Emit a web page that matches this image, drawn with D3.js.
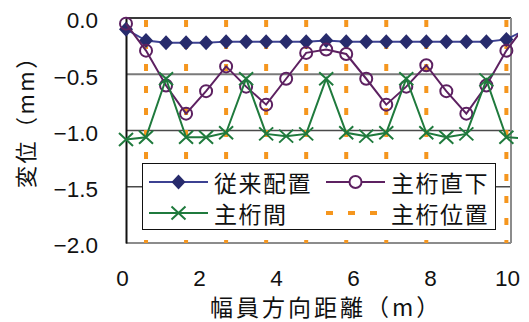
<!DOCTYPE html>
<html><head><meta charset="utf-8">
<script src="https://cdn.jsdelivr.net/npm/d3@7/dist/d3.min.js"></script>
<style>body{margin:0;background:#fff}svg{display:block}</style>
</head><body><svg id="c" width="529" height="322"></svg>
<script>
// ---- data ----
const xPos = [0, 0.52, 1.04, 1.56, 2.08, 2.6, 3.12, 3.64, 4.16, 4.68, 5.2, 5.72, 6.24, 6.76, 7.28, 7.8, 8.32, 8.84, 9.36, 9.88, 10.4];
const conventional = [-0.10, -0.20, -0.22, -0.22, -0.22, -0.21, -0.21, -0.21, -0.21, -0.21, -0.20, -0.21, -0.21, -0.21, -0.21, -0.21, -0.21, -0.21, -0.21, -0.19, -0.10]; // 従来配置
const underGirder = [-0.05, -0.29, -0.60, -0.85, -0.65, -0.43, -0.61, -0.77, -0.54, -0.31, -0.28, -0.32, -0.54, -0.77, -0.61, -0.42, -0.65, -0.85, -0.60, -0.29, -0.05]; // 主桁直下
const betweenGirder = [-1.08, -1.06, -0.54, -1.06, -1.06, -1.02, -0.54, -1.03, -1.05, -1.03, -0.54, -1.02, -1.05, -1.02, -0.54, -1.02, -1.06, -1.03, -0.55, -1.06, -1.07]; // 主桁間
const girderPos = [0.52, 1.56, 2.6, 3.64, 4.68, 5.72, 6.76, 7.8, 9.88]; // 主桁位置
const xTicks = [0, 2, 4, 6, 8, 10];
const yTicks = [0, -0.5, -1.0, -1.5, -2.0];
const seriesNames = ["従来配置", "主桁直下", "主桁間", "主桁位置"];
const xTitle = "幅員方向距離（m）";
const yTitle = "変位（mm）";

// ---- layout ----
const svg = d3.select("#c");
const L = 126, R = 511, T = 18, B = 243;
const x = d3.scaleLinear().domain([0, 10]).range([L, R]);
const y = d3.scaleLinear().domain([-2, 0]).range([B, T]);
const C = {navy:"#272b6c", navyLine:"#3c4192", purple:"#5d2161", green:"#1f7a3d", orange:"#f5961e"};
const numFont = "'Liberation Sans', Arial, sans-serif";
const jpFont = "'Noto Sans CJK JP', sans-serif";

svg.append("defs").append("clipPath").attr("id","clip")
  .append("rect").attr("x",0).attr("y",0).attr("width",518).attr("height",322);

// gridlines
svg.append("g").selectAll("line").data(yTicks.filter(d => d > -2 && d < 0)).join("line")
  .attr("x1", L).attr("x2", R).attr("y1", d => y(d)).attr("y2", d => y(d))
  .attr("stroke", (d,i) => i === 0 ? "#7a7a7a" : "#4a4a4a").attr("stroke-width", (d,i)=> i===0 ? 2 : 1.5);

// plot border
svg.append("line").attr("x1", L).attr("x2", R).attr("y1", T).attr("y2", T).attr("stroke", "#3a3a3a").attr("stroke-width", 2);
svg.append("line").attr("x1", R).attr("x2", R).attr("y1", T).attr("y2", B).attr("stroke", "#8c8c8c").attr("stroke-width", 2);
svg.append("line").attr("x1", L).attr("x2", R).attr("y1", B).attr("y2", B).attr("stroke", "#8c8c8c").attr("stroke-width", 2);

// girder positions (orange dashed)
svg.append("g").selectAll("line").data(girderPos).join("line")
  .attr("x1", d => x(d)).attr("x2", d => x(d)).attr("y1", T).attr("y2", B)
  .attr("stroke", C.orange).attr("stroke-width", 4).attr("stroke-dasharray", "7,15").attr("stroke-dashoffset", -2);

// left axis
const yAxis = d3.axisLeft(y).tickValues(yTicks).tickSize(0).tickPadding(28)
  .tickFormat(d => d3.format(".1f")(d).replace("-", "\u2212"));
const gy = svg.append("g").attr("transform", `translate(${L},0)`).call(yAxis);
gy.select(".domain").attr("stroke", "#111").attr("stroke-width", 2);
gy.selectAll("text").attr("font-family", numFont).attr("font-size", 22.5).attr("fill", "#111").attr("dy", "0.44em");

const xAxis = d3.axisBottom(x).tickValues(xTicks).tickSize(0).tickPadding(27).tickFormat(d3.format("d"));
const gx = svg.append("g").attr("transform", `translate(0,${B})`).call(xAxis);
gx.select(".domain").remove();
gx.selectAll("text").attr("font-family", numFont).attr("font-size", 22.5).attr("fill", "#111").attr("dx", -4);

// series
const pts = arr => arr.map((v, i) => [xPos[i], v]);
const line = d3.line().x(d => x(d[0])).y(d => y(d[1]));
const plot = svg.append("g").attr("clip-path", "url(#clip)");
const diamond = "M0,-7.5L7,0L0,7.5L-7,0Z";
const cross = "M-7,-6.5L7,6.5M-7,6.5L7,-6.5";

// 従来配置
plot.append("path").datum(pts(conventional)).attr("d", line).attr("fill", "none").attr("stroke", C.navyLine).attr("stroke-width", 2);
plot.append("g").selectAll("path").data(pts(conventional)).join("path")
  .attr("d", diamond).attr("transform", d => `translate(${x(d[0])},${y(d[1])})`).attr("fill", C.navy);
// 主桁直下
plot.append("path").datum(pts(underGirder)).attr("d", line).attr("fill", "none").attr("stroke", C.purple).attr("stroke-width", 2);
plot.append("g").selectAll("circle").data(pts(underGirder)).join("circle")
  .attr("cx", d => x(d[0])).attr("cy", d => y(d[1])).attr("r", 6)
  .attr("fill", "none").attr("stroke", C.purple).attr("stroke-width", 2);
// 主桁間
plot.append("path").datum(pts(betweenGirder)).attr("d", line).attr("fill", "none").attr("stroke", C.green).attr("stroke-width", 2);
plot.append("g").selectAll("path").data(pts(betweenGirder)).join("path")
  .attr("d", cross).attr("transform", d => `translate(${x(d[0])},${y(d[1])})`).attr("fill", "none").attr("stroke", C.green).attr("stroke-width", 2);

// legend
const lg = svg.append("g");
lg.append("rect").attr("x", 142.5).attr("y", 163.5).attr("width", 353).attr("height", 66)
  .attr("fill", "#fff").attr("stroke", "#111").attr("stroke-width", 1);
const items = [
  {name: seriesNames[0], col: 0, row: 0, kind: "diamond"},
  {name: seriesNames[1], col: 1, row: 0, kind: "circle"},
  {name: seriesNames[2], col: 0, row: 1, kind: "cross"},
  {name: seriesNames[3], col: 1, row: 1, kind: "dash"}
];
const colX = [149, 326], rowY = [182, 213];
items.forEach(it => {
  const x0 = colX[it.col], yy = rowY[it.row], xm = x0 + 29.5;
  const g = lg.append("g");
  if (it.kind === "dash") {
    g.append("line").attr("x1", x0).attr("x2", x0 + 59).attr("y1", yy).attr("y2", yy)
      .attr("stroke", C.orange).attr("stroke-width", 4).attr("stroke-dasharray", "7,15");
  } else {
    const col = it.kind === "diamond" ? C.navyLine : it.kind === "circle" ? C.purple : C.green;
    g.append("line").attr("x1", x0).attr("x2", x0 + 59).attr("y1", yy).attr("y2", yy).attr("stroke", col).attr("stroke-width", 2);
    if (it.kind === "diamond") g.append("path").attr("d", diamond).attr("transform", `translate(${xm},${yy})`).attr("fill", C.navy);
    if (it.kind === "circle") g.append("circle").attr("cx", xm).attr("cy", yy).attr("r", 6).attr("fill", "#fff").attr("stroke", C.purple).attr("stroke-width", 2);
    if (it.kind === "cross") g.append("path").attr("d", cross).attr("transform", `translate(${xm},${yy})`).attr("fill", "none").attr("stroke", C.green).attr("stroke-width", 2);
  }
  g.append("text").attr("x", x0 + 65).attr("y", yy).attr("dominant-baseline", "central")
    .attr("font-family", jpFont).attr("font-size", 23).attr("letter-spacing", 1.5).attr("fill", "#111").text(it.name);
});

// axis titles
svg.append("text").attr("x", 210).attr("y", 306).attr("dominant-baseline", "central")
  .attr("font-family", jpFont).attr("font-size", 23).attr("letter-spacing", 3).attr("fill", "#111").text(xTitle);
svg.append("text").attr("transform", "translate(24,188) rotate(-90)").attr("dominant-baseline", "central")
  .attr("font-family", jpFont).attr("font-size", 22).attr("letter-spacing", 2.5).attr("fill", "#111").text(yTitle);
</script>
</body></html>
